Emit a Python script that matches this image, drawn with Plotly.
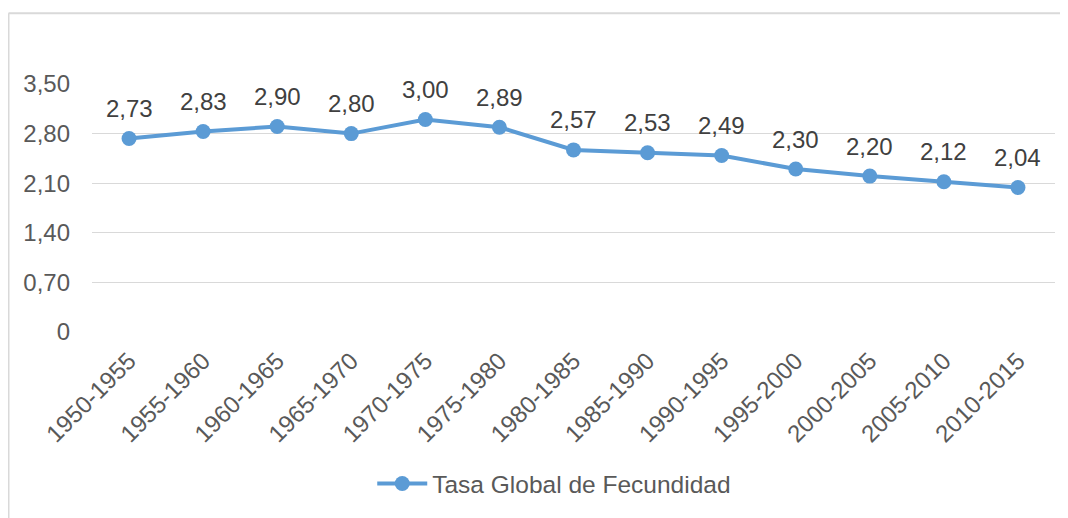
import plotly.graph_objects as go

periods = ["1950-1955", "1955-1960", "1960-1965", "1965-1970", "1970-1975", "1975-1980",
           "1980-1985", "1985-1990", "1990-1995", "1995-2000", "2000-2005", "2005-2010", "2010-2015"]
tgf = [2.73, 2.83, 2.90, 2.80, 3.00, 2.89, 2.57, 2.53, 2.49, 2.30, 2.20, 2.12, 2.04]
ytick_vals = [0, 0.70, 1.40, 2.10, 2.80, 3.50]
ytick_text = ["0", "0,70", "1,40", "2,10", "2,80", "3,50"]

labels = [f"{v:.2f}".replace(".", ",") for v in tgf]

FONT = "Arial, 'Liberation Sans', sans-serif"
TXT = "#595959"
BLUE = "#5B9BD5"

fig = go.Figure()
fig.add_trace(go.Scatter(
    x=periods, y=tgf, mode="lines+markers",
    name="Tasa Global de Fecundidad",
    line=dict(color=BLUE, width=4),
    marker=dict(color=BLUE, size=15),
    cliponaxis=False,
))

annotations = [
    dict(x=p, y=v, text=t, showarrow=False, yshift=30, xref="x", yref="y",
         font=dict(size=24, color="#404040", family=FONT))
    for p, v, t in zip(periods, tgf, labels)
]

fig.update_layout(
    width=1060, height=510,
    margin=dict(l=84, r=13, t=76, b=182),
    paper_bgcolor="white", plot_bgcolor="white",
    font=dict(family=FONT, color=TXT, size=24),
    showlegend=True,
    legend=dict(orientation="h", x=0.48, xanchor="center", y=-0.611, yanchor="middle",
                font=dict(size=24.5, color=TXT), itemwidth=50),
    xaxis=dict(type="category", range=[-0.5, len(periods) - 0.5],
               tickangle=-45, showgrid=False, zeroline=False, showline=False,
               tickfont=dict(size=24, color=TXT), automargin=False, ticklabelstandoff=9),
    yaxis=dict(range=[0, 3.5], tickvals=ytick_vals, ticktext=ytick_text,
               showgrid=True, gridcolor="#d9d9d9", gridwidth=1,
               zeroline=False, showline=False, automargin=False,
               tickfont=dict(size=24, color=TXT), ticklabelstandoff=21),
    annotations=annotations,
    shapes=[
        dict(type="line", xref="paper", yref="paper", x0=-0.0867, x1=1.02, y0=1.2857, y1=1.2857,
             line=dict(color="#d9d9d9", width=2)),
        dict(type="line", xref="paper", yref="paper", x0=-0.0867, x1=-0.0867, y0=1.2857, y1=-0.8,
             line=dict(color="#d9d9d9", width=2)),
    ],
)

fig.write_html("out.html")
